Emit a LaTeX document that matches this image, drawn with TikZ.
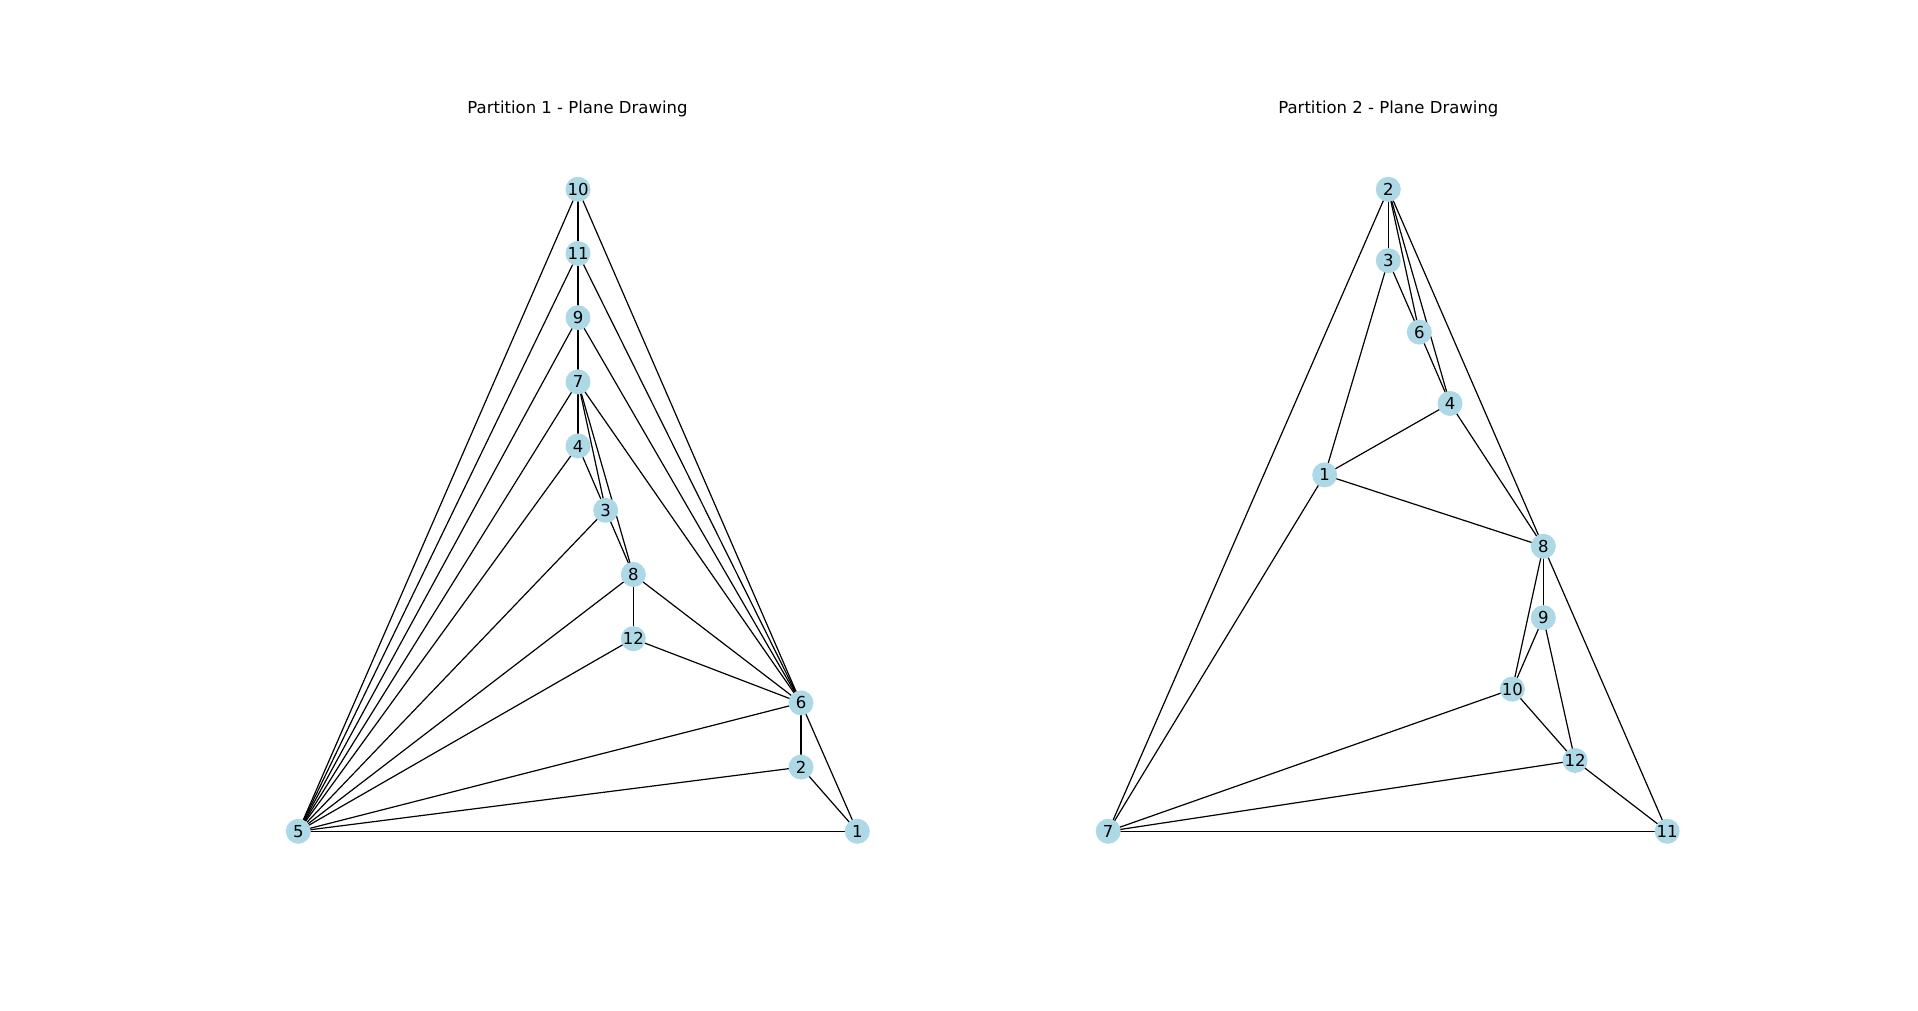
\documentclass[tikz,border=0pt]{standalone}
\usepackage{fontspec}
\setmainfont{DejaVu Sans}
\usetikzlibrary{backgrounds}
\definecolor{vfill}{HTML}{ADD8E6}
\begin{document}
\begin{tikzpicture}[x=1pt,y=1pt,
  vtx/.style={circle,fill=vfill,draw=none,minimum size=25pt,inner sep=0pt,font=\fontsize{16.5}{17}\selectfont},
  edge/.style={draw=black,line width=1.2pt},
  ttl/.style={font=\fontsize{16.5}{18}\selectfont,anchor=center}]
\useasboundingbox (0,0) rectangle (1918,1011);

% titles
\node[ttl] (t1) at (577.5,902) {Partition 1 - Plane Drawing};
\node[ttl] (t2) at (1388.4,902) {Partition 2 - Plane Drawing};

% first partition
\node[vtx] (a10) at (578,821.7) {10};
\node[vtx] (a11) at (578,757.5) {11};
\node[vtx] (a9)  at (578,693.3) {9};
\node[vtx] (a7)  at (578,629.1) {7};
\node[vtx] (a4)  at (578,565.0) {4};
\node[vtx] (a3)  at (605.7,500.7) {3};
\node[vtx] (a8)  at (633.3,436.5) {8};
\node[vtx] (a12) at (633.3,372.3) {12};
\node[vtx] (a6)  at (801,308.1) {6};
\node[vtx] (a2)  at (801,243.9) {2};
\node[vtx] (a1)  at (857.3,179.7) {1};
\node[vtx] (a5)  at (298.3,179.7) {5};

% second partition
\node[vtx] (b2)  at (1388.3,821.7) {2};
\node[vtx] (b3)  at (1388.3,750.3) {3};
\node[vtx] (b6)  at (1419.3,678.9) {6};
\node[vtx] (b4)  at (1450,607.5) {4};
\node[vtx] (b1)  at (1324.7,536.1) {1};
\node[vtx] (b8)  at (1543.3,464.7) {8};
\node[vtx] (b9)  at (1543.3,393.3) {9};
\node[vtx] (b10) at (1512.3,321.9) {10};
\node[vtx] (b12) at (1575,250.5) {12};
\node[vtx] (b7)  at (1108.2,179.7) {7};
\node[vtx] (b11) at (1667.2,179.7) {11};

\begin{pgfonlayer}{background}
  \foreach \u/\v in {a10/a11,a10/a5,a10/a6,a11/a9,a11/a5,a11/a6,a9/a7,a9/a5,a9/a6,
                     a7/a4,a7/a3,a7/a8,a7/a6,a7/a5,a4/a3,a4/a5,a3/a8,a3/a5,
                     a8/a12,a8/a6,a8/a5,a12/a6,a12/a5,a6/a2,a6/a1,a6/a5,a2/a1,a2/a5,a5/a1}
    \draw[edge] (\u.center) -- (\v.center);
  \foreach \u/\v in {b2/b3,b2/b6,b2/b4,b2/b8,b2/b7,b3/b6,b3/b1,b6/b4,b4/b1,b4/b8,
                     b1/b8,b1/b7,b8/b9,b8/b10,b8/b11,b9/b10,b9/b12,b10/b12,b10/b7,
                     b12/b7,b12/b11,b7/b11}
    \draw[edge] (\u.center) -- (\v.center);
\end{pgfonlayer}
\end{tikzpicture}
\end{document}
